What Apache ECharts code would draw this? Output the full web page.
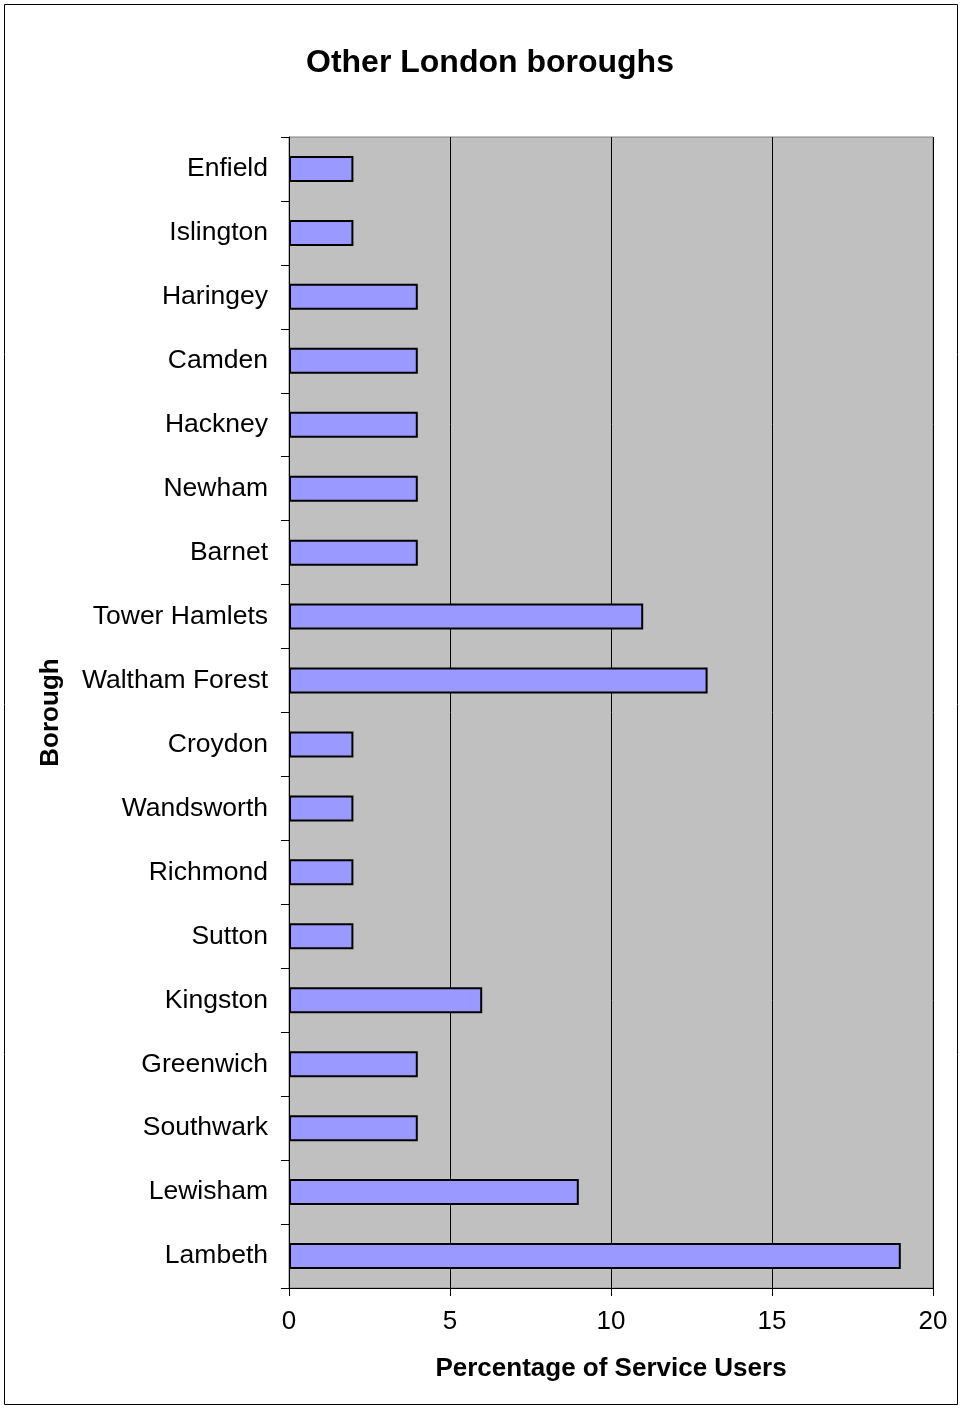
<!DOCTYPE html>
<html>
<head>
    <meta http-equiv="Content-Type" content="text/html; charset=utf-8" />
    <title></title>
    <style>
        html, body { margin: 0; padding: 0; background: #fff; }
    </style>
</head>
<body>
    <div id="chart" style="width: 962px; height: 1409px;"></div>
</body>
<script src="https://cdn.jsdelivr.net/npm/echarts@6/dist/echarts.min.js"></script>
<script>
    var boroughs = ['Enfield', 'Islington', 'Haringey', 'Camden', 'Hackney', 'Newham', 'Barnet',
        'Tower Hamlets', 'Waltham Forest', 'Croydon', 'Wandsworth', 'Richmond', 'Sutton',
        'Kingston', 'Greenwich', 'Southwark', 'Lewisham', 'Lambeth'];
    var percentages = [2, 2, 4, 4, 4, 4, 4, 11, 13, 2, 2, 2, 2, 6, 4, 4, 9, 19];

    var font = 'Liberation Sans, Arial, sans-serif';
    var chart = echarts.init(document.getElementById('chart'));
    var option = {
        animation: false,
        backgroundColor: '#ffffff',
        title: {
            text: 'Other London boroughs',
            left: 301,
            top: 42,
            textStyle: { fontFamily: font, fontSize: 32, fontWeight: 'bold', color: '#000' }
        },
        graphic: [{
            type: 'rect',
            shape: { x: 4.5, y: 4.5, width: 953, height: 1400 },
            style: { fill: 'none', stroke: '#000', lineWidth: 1 },
            silent: true
        }],
        grid: {
            left: 289, right: 29, top: 137, bottom: 121,
            show: true,
            backgroundColor: '#c0c0c0',
            borderColor: '#808080',
            borderWidth: 1
        },
        xAxis: {
            type: 'value',
            min: 0, max: 20, interval: 5,
            name: 'Percentage of Service Users',
            nameLocation: 'middle',
            nameGap: 68,
            nameTextStyle: { fontFamily: font, fontSize: 26, fontWeight: 'bold', color: '#000' },
            axisLine: { show: true, lineStyle: { color: '#000', width: 1 } },
            axisTick: { show: true, length: 8, lineStyle: { color: '#000' } },
            axisLabel: { fontFamily: font, fontSize: 26, color: '#000', margin: 21 },
            splitLine: { show: true, lineStyle: { color: '#000', width: 1 } }
        },
        yAxis: {
            type: 'category',
            data: boroughs,
            inverse: true,
            name: 'Borough',
            nameLocation: 'middle',
            nameGap: 225,
            nameRotate: 90,
            nameTextStyle: { fontFamily: font, fontSize: 26, fontWeight: 'bold', color: '#000' },
            axisLine: { show: true, lineStyle: { color: '#000', width: 1 } },
            axisTick: { show: true, length: 8, inside: false, lineStyle: { color: '#000' } },
            axisLabel: { fontFamily: font, fontSize: 26.5, color: '#000', margin: 21 },
            splitLine: { show: false }
        },
        series: [{
            type: 'bar',
            data: percentages,
            barWidth: 26,
            itemStyle: { color: '#9999ff', borderColor: '#000', borderWidth: 2 }
        }]
    };
    chart.setOption(option);
</script>
</html>
